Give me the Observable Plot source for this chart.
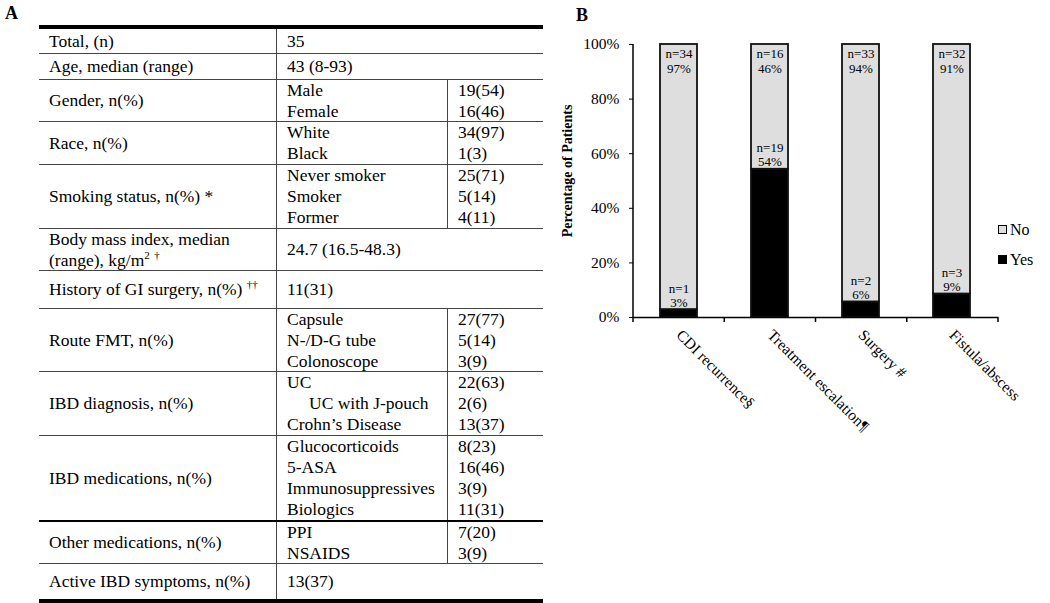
<!DOCTYPE html>
<html><head><meta charset="utf-8">
<script src="https://cdn.jsdelivr.net/npm/d3@7"></script>
<script src="https://cdn.jsdelivr.net/npm/@observablehq/plot@0.6"></script>
<style>
body{margin:0;background:#fff;font-family:"Liberation Serif","Times New Roman",serif;color:#000}
#wrap{position:relative;width:1050px;height:603px;overflow:hidden;background:#fff}
.panel{position:absolute;font-weight:bold;font-size:18px;line-height:18px}
#table{position:absolute;left:39px;top:25px;width:504px;border-top:4px solid #000;border-bottom:4px solid #000}
.row{display:flex;box-sizing:border-box;border-top:1.5px solid #444;font-size:17.5px;line-height:21px}
.row:first-child{border-top:none}
.row.heavy{border-top:2.5px solid #000}
.c1{width:238px;flex:none;padding-left:10px;box-sizing:border-box;display:flex;align-items:center;border-right:1.5px solid #444}
.c2{width:170px;flex:none;padding-left:10px;box-sizing:border-box;display:flex;flex-direction:column;justify-content:center;white-space:nowrap}
.c2.span{width:264px}
.c3{flex:1;padding-left:10px;box-sizing:border-box;display:flex;flex-direction:column;justify-content:center;border-left:1.5px solid #444}
.indent{padding-left:22px}
sup{font-size:11px;line-height:0;vertical-align:7px}
#chart{position:absolute;left:540px;top:0}
.leg{position:absolute;font-size:16px;line-height:16px}
.leg span{display:inline-block;width:7px;height:7px;border:1px solid #000;margin-right:3px;vertical-align:1px}
</style></head>
<body><div id="wrap">
<div class="panel" style="left:5px;top:4px">A</div>
<div class="panel" style="left:576px;top:6px">B</div>
<div id="table"></div>
<div id="chart"></div>
<div class="leg" style="left:998px;top:222px"><span style="background:#dedede"></span>No</div>
<div class="leg" style="left:998px;top:252px"><span style="background:#000"></span>Yes</div>
</div>
<script>
// ---- Panel A table data ----
const rowLabels = [
  "Total, (n)",
  "Age, median (range)",
  "Gender, n(%)",
  "Race, n(%)",
  "Smoking status, n(%) *",
  "Body mass index, median<br>(range), kg/m<sup>2</sup> <sup>†</sup>",
  "History of GI surgery, n(%) <sup>††</sup>",
  "Route FMT, n(%)",
  "IBD diagnosis, n(%)",
  "IBD medications, n(%)",
  "Other medications, n(%)",
  "Active IBD symptoms, n(%)"
];
const rowSubLabels = [
  null, null,
  ["Male", "Female"],
  ["White", "Black"],
  ["Never smoker", "Smoker", "Former"],
  null, null,
  ["Capsule", "N-/D-G tube", "Colonoscope"],
  ["UC", "UC with J-pouch", "Crohn’s Disease"],
  ["Glucocorticoids", "5-ASA", "Immunosuppressives", "Biologics"],
  ["PPI", "NSAIDS"],
  null
];
const rowValues = [
  ["35"], ["43 (8-93)"],
  ["19(54)", "16(46)"],
  ["34(97)", "1(3)"],
  ["25(71)", "5(14)", "4(11)"],
  ["24.7 (16.5-48.3)"], ["11(31)"],
  ["27(77)", "5(14)", "3(9)"],
  ["22(63)", "2(6)", "13(37)"],
  ["8(23)", "16(46)", "3(9)", "11(31)"],
  ["7(20)", "3(9)"],
  ["13(37)"]
];
const indentedSubLabels = ["UC with J-pouch"];
// layout (row heights in px)
const rowHeights = [24, 26, 42, 43, 64, 42, 38, 63, 64, 85, 43, 36];

const table = document.getElementById("table");
rowLabels.forEach((lab, i) => {
  const row = document.createElement("div");
  row.className = "row" + (i === 10 ? " heavy" : "");
  row.style.height = rowHeights[i] + "px";
  const c1 = document.createElement("div");
  c1.className = "c1"; c1.innerHTML = "<div>" + lab + "</div>";
  row.appendChild(c1);
  const subs = rowSubLabels[i];
  if (subs) {
    const c2 = document.createElement("div"); c2.className = "c2";
    subs.forEach(s => { const d = document.createElement("div"); d.textContent = s; if (indentedSubLabels.includes(s)) d.className = "indent"; c2.appendChild(d); });
    const c3 = document.createElement("div"); c3.className = "c3";
    rowValues[i].forEach(v => { const d = document.createElement("div"); d.textContent = v; c3.appendChild(d); });
    row.appendChild(c2); row.appendChild(c3);
  } else {
    const c2 = document.createElement("div"); c2.className = "c2 span";
    c2.textContent = rowValues[i][0];
    row.appendChild(c2);
  }
  table.appendChild(row);
});

// ---- Panel B chart data ----
const categories = ["CDI recurrence§", "Treatment escalation¶", "Surgery #", "Fistula/abscess"];
const yesCounts = [1, 19, 2, 3];
const noCounts = [34, 16, 33, 32];
const yesPct = [2.9, 54.3, 5.7, 8.6];
const noPct = [97.1, 45.7, 94.3, 91.4];
const yesLabelPct = [3, 54, 6, 9];
const noLabelPct = [97, 46, 94, 91];
const yTicks = [0, 20, 40, 60, 80, 100];
const responses = ["No", "Yes"];
const responseColors = ["#dedede", "#000000"];

const yesRows = categories.map((c, i) => ({cat: c, resp: "Yes", pct: yesPct[i], n: yesCounts[i], lab: yesLabelPct[i]}));
const noRows = categories.map((c, i) => ({cat: c, resp: "No", pct: noPct[i], n: noCounts[i], lab: noLabelPct[i]}));
const rows = [...yesRows, ...noRows];

function axisLines(index, scales, values, dims) {
  const {width, height, marginLeft, marginRight, marginTop, marginBottom} = dims;
  const x0 = marginLeft, x1 = width - marginRight, yb = height - marginBottom;
  const g = d3.create("svg:g").attr("stroke", "#000").attr("stroke-width", 1.5).attr("fill", "none");
  g.append("line").attr("x1", x0).attr("x2", x0).attr("y1", marginTop).attr("y2", yb);
  const n = categories.length;
  for (let k = 0; k <= n; k++) {
    const xk = x0 + k * (x1 - x0) / n;
    g.append("line").attr("x1", xk).attr("x2", xk).attr("y1", yb).attr("y2", yb + 5);
  }
  return g.node();
}

const plot = Plot.plot({
  width: 510,
  height: 603,
  marginLeft: 93,
  marginRight: 52,
  marginTop: 44,
  marginBottom: 286,
  style: {fontFamily: "'Liberation Serif','Times New Roman',serif", fontSize: "15px", background: "transparent", color: "#000"},
  x: {domain: categories, paddingInner: 0.59, paddingOuter: 0.295, label: null},
  y: {domain: [0, 100], label: null},
  color: {domain: responses, range: responseColors},
  marks: [
    Plot.barY(rows, {x: "cat", y: "pct", fill: "resp", order: ["Yes", "No"], stroke: "#111", strokeWidth: 1.8}),
    Plot.ruleY([0], {stroke: "#000", strokeWidth: 1.5}),
    axisLines,
    Plot.axisY({ticks: yTicks, tickSize: 4, tickPadding: 10, tickFormat: d => d + "%", label: null, fontSize: 15.5}),
    Plot.axisX({tickSize: 0, tickRotate: 45, tickPadding: 15, label: null, fontSize: 15.5}),
    Plot.text(noRows, {x: "cat", y: 100, text: d => `n=${d.n}\n${d.lab}%`, lineAnchor: "top", dy: 4, fontSize: 13, lineHeight: 1.08}),
    Plot.text(yesRows, {x: "cat", y: "pct", text: d => `n=${d.n}\n${d.lab}%`, lineAnchor: "bottom", dy: -3, fontSize: 13, lineHeight: 1.08}),
    Plot.text(["Percentage of Patients"], {frameAnchor: "left", textAnchor: "middle", rotate: -90, dx: -66, dy: -10, fontWeight: "bold", fontSize: 14})
  ]
});
document.getElementById("chart").appendChild(plot);
</script>
</body></html>
